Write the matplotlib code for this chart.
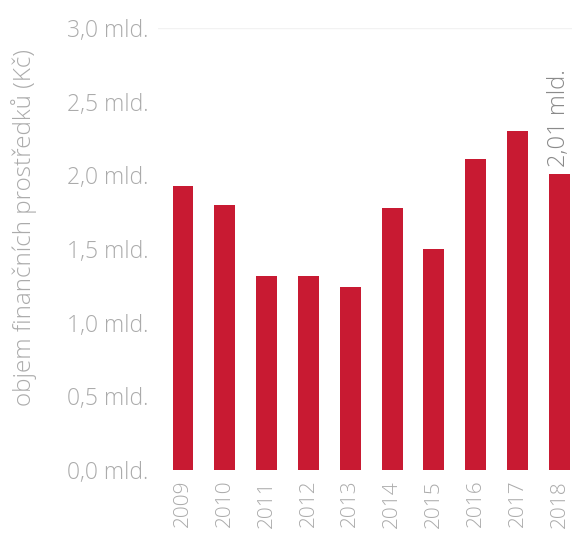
import matplotlib
matplotlib.use("Agg")
import matplotlib.pyplot as plt

years = ["2009", "2010", "2011", "2012", "2013", "2014", "2015", "2016", "2017", "2018"]
values = [1.93, 1.80, 1.32, 1.32, 1.24, 1.78, 1.50, 2.11, 2.30, 2.01]
yticks = [0.0, 0.5, 1.0, 1.5, 2.0, 2.5, 3.0]
ytick_labels = ["0,0 mld.", "0,5 mld.", "1,0 mld.", "1,5 mld.", "2,0 mld.", "2,5 mld.", "3,0 mld."]
last_label = "2,01 mld."
ylabel = "objem finančních prostředků (Kč)"

plt.rcParams['font.family'] = ['Open Sans', 'DejaVu Sans']
plt.rcParams['font.weight'] = 'light'
gray = '#ababab'
red = '#c81a32'

fig = plt.figure(figsize=(5.72, 5.41), dpi=100)
ax = fig.add_axes([0.276, 0.131, 0.724, 0.817])
x = list(range(len(years)))
ax.bar(x, values, width=0.5, color=red, zorder=2)
ax.set_xlim(-0.6, 9.3)
ax.set_ylim(0, 3.0)
ax.set_yticks(yticks)
ax.set_yticklabels(ytick_labels, color=gray, fontsize=16.5)
ax.set_xticks(x)
ax.set_xticklabels(years, rotation=90, color=gray, fontsize=15)
ax.tick_params(axis='both', length=0)
ax.tick_params(axis='y', pad=7)
ax.tick_params(axis='x', pad=7)
for s in ax.spines.values():
    s.set_visible(False)
ax.axhline(3.0, color='#f2f2f2', lw=1, zorder=1)
ax.text(x[-1], values[-1] + 0.05, last_label, rotation=90, ha='center', va='bottom',
        color='#8a8a8a', fontsize=17, clip_on=False)
fig.text(0.042, 0.579, ylabel, rotation=90, ha='center', va='center', color=gray, fontsize=17.5)
fig.savefig("out.png", dpi=100)
